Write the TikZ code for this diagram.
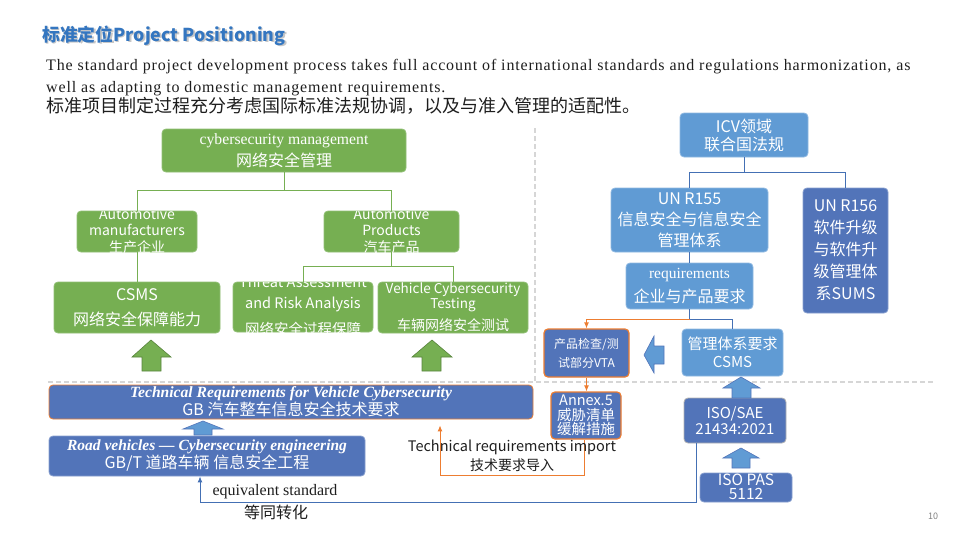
\documentclass[tikz,border=0pt]{standalone}
\usepackage{fontspec}
\setmainfont{Liberation Serif}
\newfontfamily\cjk{Noto Sans CJK SC}
\newfontfamily\pararm[LetterSpace=5.4]{Liberation Serif}
\usetikzlibrary{arrows.meta}
\definecolor{grn}{RGB}{118,175,82}
\definecolor{lblue}{RGB}{96,155,212}
\definecolor{dblue}{RGB}{82,116,185}
\definecolor{connblue}{RGB}{68,112,180}
\definecolor{org}{RGB}{237,125,49}
\definecolor{ttlblue}{RGB}{52,118,192}
\definecolor{txt}{RGB}{30,30,30}
\begin{document}
\begin{tikzpicture}[x=1pt,y=-1pt,
  box/.style={rectangle, rounded corners=4pt, inner sep=0pt, text=white, align=center},
  gbox/.style={box, fill=grn, draw=grn!80!white, line width=0.8pt},
  lbox/.style={box, fill=lblue, draw=lblue!70!white, line width=0.8pt},
  dbox/.style={box, fill=dblue, draw=dblue!70!white, line width=0.8pt},
  obox/.style={box, fill=dblue, draw=org, line width=1.2pt},
  ctext/.style={text=white, align=center, inner sep=0pt},
  gline/.style={draw=grn, line width=1pt},
  bline/.style={draw=connblue, line width=1pt},
  oline/.style={draw=org, line width=1pt},
  tip/.style={-{Latex[length=6pt,width=5pt]}},
  garrow/.style={fill=grn, draw=grn!75!black, line width=0.6pt},
  barrow/.style={fill=lblue, draw=dblue, line width=0.6pt},
  sepline/.style={draw=black!16, line width=1.3pt, dash pattern=on 5pt off 3pt},
  para/.style={anchor=base west, inner sep=0pt, text=txt},
]
\useasboundingbox (0,0) rectangle (956,538);

% ---------- title and paragraph ----------
\node[anchor=base west, inner sep=0pt, text=black!22, font=\cjk\bfseries\fontsize{17.8}{18}\selectfont] (titleshadow) at (43.5,42.5) {标准定位Project Positioning};
\node[anchor=base west, inner sep=0pt, text=ttlblue, font=\cjk\bfseries\fontsize{17.8}{18}\selectfont] (title) at (42,41) {标准定位Project Positioning};
\node[para, font=\pararm\fontsize{16}{16}\selectfont] (p1) at (46,70) {The standard project development process takes full account of international standards and regulations harmonization, as};
\node[para, font=\pararm\fontsize{16}{16}\selectfont] (p2) at (46,92) {well as adapting to domestic management requirements.};
\node[para, font=\cjk\fontsize{18}{18}\selectfont] (p3) at (46,112) {标准项目制定过程充分考虑国际标准法规协调，以及与准入管理的适配性。};

% ---------- separators ----------
\draw[sepline] (535,128) -- (535,382);
\draw[sepline] (48,382) -- (933,382);

% ---------- green tree ----------
\node[gbox, minimum width=244pt, minimum height=43pt, font=\cjk\fontsize{16}{22}\selectfont] (cm) at (284,150.5)
  {{\rmfamily\fontsize{15.7}{22}\selectfont cybersecurity management}\\网络安全管理};

\node[gbox, minimum width=120pt, minimum height=41pt] (am) at (137,231.5) {};
\begin{scope}
  \clip[rounded corners=4pt] (am.south west) rectangle (am.north east);
  \node[ctext, font=\cjk\fontsize{14}{16.5}\selectfont] (amt) at (137,231) {Automotive\\manufacturers\\生产企业};
\end{scope}

\node[gbox, minimum width=135pt, minimum height=41pt] (ap) at (391.5,231.5) {};
\begin{scope}
  \clip[rounded corners=4pt] (ap.south west) rectangle (ap.north east);
  \node[ctext, font=\cjk\fontsize{14}{16.5}\selectfont] (apt) at (391.5,231) {Automotive\\Products\\汽车产品};
\end{scope}

\node[gbox, minimum width=166pt, minimum height=51pt, font=\cjk\fontsize{16}{25}\selectfont] (csms) at (137,307.5) {CSMS\\网络安全保障能力};

\node[gbox, minimum width=140pt, minimum height=50pt] (tara) at (303,307) {};
\begin{scope}
  \clip[rounded corners=4pt] (tara.south west) rectangle (tara.north east);
  \node[ctext, font=\cjk\fontsize{14.5}{21}\selectfont] (tarat) at (303,306) {Threat Assessment\\and Risk Analysis\\[5pt]网络安全过程保障};
\end{scope}

\node[gbox, minimum width=150pt, minimum height=51pt, font=\cjk\fontsize{13.5}{14.5}\selectfont] (vct) at (453,307.5)
  {Vehicle Cybersecurity\\Testing\\[6pt]{\fontsize{14}{14}\selectfont 车辆网络安全测试}};

\draw[gline] (cm.south) -- ++(0,18) -| (am.north);
\draw[gline] (cm.south) -- ++(0,18) -| (ap.north);
\draw[gline] (am.south) -- (csms.north);
\draw[gline] (ap.south) -- ++(0,14) -| (tara.north);
\draw[gline] (ap.south) -- ++(0,14) -| (vct.north);

\draw[garrow] (151,340) -- (171,357) -- (161,357) -- (161,371) -- (142,371) -- (142,357) -- (132,357) -- cycle;
\draw[garrow] (432,340) -- (452,357) -- (441,357) -- (441,371) -- (422,371) -- (422,357) -- (412,357) -- cycle;

% ---------- GB boxes ----------
\node[box, fill=dblue, draw=org, line width=0.8pt, minimum width=484pt, minimum height=34pt, font=\cjk\fontsize{16}{18}\selectfont] (gb) at (291,402)
  {{\rmfamily\bfseries\itshape\fontsize{15.6}{18}\selectfont Technical Requirements for Vehicle Cybersecurity}\\GB 汽车整车信息安全技术要求};
\node[dbox, minimum width=316pt, minimum height=40pt, font=\cjk\fontsize{16}{18}\selectfont] (rv) at (207,456)
  {{\rmfamily\bfseries\itshape\fontsize{15.5}{18}\selectfont Road vehicles — Cybersecurity engineering}\\GB/T 道路车辆 信息安全工程};
\draw[barrow] (203,421) -- (223,429) -- (212,429) -- (212,435) -- (194,435) -- (194,429) -- (183,429) -- cycle;

% ---------- right side ----------
\node[lbox, minimum width=128pt, minimum height=44pt, font=\cjk\fontsize{16}{18}\selectfont] (icv) at (744,135) {ICV领域\\联合国法规};
\node[lbox, minimum width=157pt, minimum height=64pt, font=\cjk\fontsize{16}{21}\selectfont] (r155) at (689.5,220) {UN R155\\信息安全与信息安全\\管理体系};
\node[dbox, minimum width=85pt, minimum height=125pt, font=\cjk\fontsize{16}{22}\selectfont] (r156) at (845.5,250.5) {UN R156\\软件升级\\与软件升\\级管理体\\系SUMS};
\node[lbox, minimum width=127pt, minimum height=46pt, font=\cjk\fontsize{16}{24}\selectfont] (req) at (689.5,286)
  {{\rmfamily\fontsize{15.5}{24}\selectfont requirements}\\企业与产品要求};

\draw[bline] (icv.south) -- ++(0,15) -| (r155.north);
\draw[bline] (icv.south) -- ++(0,15) -| (r156.north);
\draw[bline] (r155.south) -- (req.north);
\draw[bline] (req.south) -- ++(0,10) coordinate (split);

\node[obox, minimum width=85pt, minimum height=48pt, font=\cjk\fontsize{12}{19}\selectfont] (vta) at (586.5,353) {产品检查/测\\试部分VTA};
\node[lbox, minimum width=101pt, minimum height=47pt, font=\cjk\fontsize{15}{18}\selectfont] (csms2) at (732.5,352.5) {管理体系要求\\CSMS};

\draw[oline, tip] (split) -| (vta.north);
\draw[bline] (split) -| (csms2.north);

\draw[barrow] (644,355) -- (654,336) -- (654,346) -- (664,346) -- (664,364) -- (654,364) -- (654,373) -- cycle;

\node[obox, minimum width=70pt, minimum height=47pt] (annex) at (586,415.5) {};
\begin{scope}
  \clip[rounded corners=4pt] (annex.south west) rectangle (annex.north east);
  \node[ctext, font=\cjk\fontsize{14.5}{14.5}\selectfont] (annext) at (586,415.5) {Annex.5\\威胁清单\\缓解措施};
\end{scope}
\draw[oline, tip] (vta.south) -- (vta.south |- annex.north);

\node[box, fill=dblue, draw=black!30, line width=0.8pt, minimum width=102pt, minimum height=45pt, font=\cjk\fontsize{15}{16}\selectfont] (iso) at (735,420.5) {ISO/SAE\\21434:2021};
\draw[barrow] (741,377) -- (760,388) -- (751,388) -- (751,398) -- (732,398) -- (732,388) -- (723,388) -- cycle;

\node[dbox, minimum width=92pt, minimum height=29pt] (pas) at (746,487.5) {};
\begin{scope}
  \clip[rounded corners=4pt] (pas.south west) rectangle (pas.north east);
  \node[ctext, font=\cjk\fontsize{15.5}{14}\selectfont] (past) at (746,486.5) {ISO PAS\\5112};
\end{scope}
\draw[barrow] (741,448) -- (759,458) -- (750,458) -- (750,468) -- (732,468) -- (732,458) -- (723,458) -- cycle;

% ---------- long connectors ----------
\draw[bline, tip] ([xshift=-39pt]iso.south) -- ++(0,59) -| ([xshift=-7pt]rv.south);
\node[inner sep=0pt, text=txt, font=\fontsize{16}{16}\selectfont] (eql) at (275,492) {equivalent standard};
\node[inner sep=0pt, text=txt, font=\cjk\fontsize{16}{16}\selectfont] (eqc) at (276,512) {等同转化};

\draw[oline, tip] ([xshift=-2pt]annex.south) -- ++(0,36) -| ([xshift=149pt,yshift=-6pt]gb.south);
\node[inner sep=0pt, text=txt, font=\cjk\fontsize{14.5}{14.5}\selectfont] (tri) at (512,447) {Technical requirements import};
\node[inner sep=0pt, text=txt, font=\cjk\fontsize{14}{14}\selectfont] (tric) at (512,465) {技术要求导入};

\node[inner sep=0pt, text=black!50, font=\cjk\fontsize{9}{9}\selectfont] (pg) at (933,516) {10};
\end{tikzpicture}
\end{document}
